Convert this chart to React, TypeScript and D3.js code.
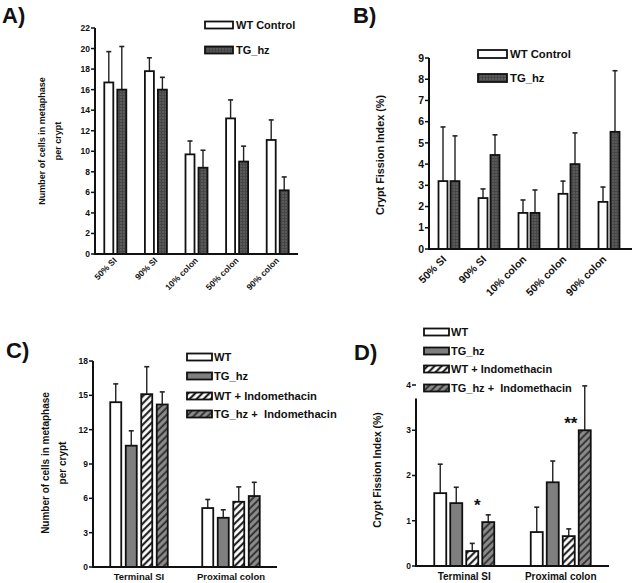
import React from "react";
import * as d3 from "d3";

// ---------- DATA ----------
const catsAB = ["50% SI", "90% SI", "10% colon", "50% colon", "90% colon"];
const seriesAB = ["WT Control", "TG_hz"];

const wtA = [16.7, 17.8, 9.7, 13.2, 11.1];
const wtAErr = [3.0, 1.3, 1.3, 1.8, 1.95];
const tgA = [16.0, 16.0, 8.4, 9.0, 6.2];
const tgAErr = [4.2, 1.2, 1.7, 1.5, 1.3];
const ticksA = [0, 2, 4, 6, 8, 10, 12, 14, 16, 18, 20, 22];

const wtB = [3.2, 2.4, 1.7, 2.6, 2.22];
const wtBErr = [2.55, 0.43, 0.61, 0.6, 0.7];
const tgB = [3.2, 4.43, 1.7, 4.0, 5.52];
const tgBErr = [2.13, 0.95, 1.08, 1.47, 2.88];
const ticksB = [0, 1, 2, 3, 4, 5, 6, 7, 8, 9];

const catsCD = ["Terminal SI", "Proximal colon"];
const seriesCD = ["WT", "TG_hz", "WT + Indomethacin", "TG_hz +  Indomethacin"];

const wtC = [14.4, 5.15];
const wtCErr = [1.6, 0.75];
const tgC = [10.6, 4.3];
const tgCErr = [1.3, 0.7];
const wtIndC = [15.1, 5.7];
const wtIndCErr = [2.4, 1.3];
const tgIndC = [14.2, 6.2];
const tgIndCErr = [1.1, 1.2];
const ticksC = [0, 3, 6, 9, 12, 15, 18];

const wtD = [1.61, 0.75];
const wtDErr = [0.64, 0.55];
const tgD = [1.39, 1.85];
const tgDErr = [0.35, 0.47];
const wtIndD = [0.33, 0.66];
const wtIndDErr = [0.17, 0.16];
const tgIndD = [0.97, 3.0];
const tgIndDErr = [0.16, 0.98];
const ticksD = [0, 1, 2, 3, 4];

const starsD = [
  { cat: "Terminal SI", series: 2, label: "*" },
  { cat: "Proximal colon", series: 3, label: "**" },
];

// ---------- STYLES ----------
const FONT = "'Liberation Sans', Arial, Helvetica, sans-serif";
const FILL_WT = "#ffffff";
const FILL_TG_DOT = "url(#dotDark)";
const FILL_TG_GRAY = "#7f7f7f";
const FILL_WT_HATCH = "url(#hatchWhite)";
const FILL_TG_HATCH = "url(#hatchGray)";

type Series = { name: string; values: number[]; errs: number[]; fill: string };

type PanelCfg = {
  title: string;
  titlePos: [number, number];
  cats: string[];
  series: Series[];
  xRange: [number, number];
  axisEnd: number;
  yDomain: [number, number];
  yRange: [number, number];
  axisTopValue: number;
  ticks: number[];
  tickFont: number;
  step: number;
  barW: number;
  capW: number;
  yLabel: string[];
  yLabelX: number;
  yLabelY: number;
  yLabelFont: number;
  yLabelDy: number;
  xLabelRotate: boolean;
  xLabelFont: number;
  xLabelY: number;
  xLabelDx: number;
  legendX: number;
  legendRows: number[];
  legendBoxW: number;
  legendBoxH: number;
  legendFont: number;
  legendTextGap: number;
};

function Panel({ cfg, stars }: { cfg: PanelCfg; stars?: typeof starsD }) {
  const x0 = d3.scaleBand<string>().domain(cfg.cats).range(cfg.xRange).padding(0);
  const y = d3.scaleLinear().domain(cfg.yDomain).range(cfg.yRange);
  const n = cfg.series.length;
  const inner = (n - 1) * cfg.step + cfg.barW;
  const x1 = d3
    .scaleBand<string>()
    .domain(cfg.series.map((s) => s.name))
    .range([-inner / 2, inner / 2])
    .paddingInner((cfg.step - cfg.barW) / cfg.step)
    .paddingOuter(0);
  const bw = x1.bandwidth();
  const axX = cfg.xRange[0];
  const y0 = y(0);
  const center = (c: string) => (x0(c) as number) + x0.bandwidth() / 2;

  return (
    <g fontFamily={FONT} fontWeight="bold" fill="#111">
      <text x={cfg.titlePos[0]} y={cfg.titlePos[1]} fontSize={22} fontWeight="bold">
        {cfg.title}
      </text>

      {/* bars */}
      {cfg.cats.map((c, ci) =>
        cfg.series.map((s) => {
          const bx = center(c) + (x1(s.name) as number);
          const v = s.values[ci];
          const top = y(v);
          const et = y(v + s.errs[ci]);
          const cx = bx + bw / 2;
          return (
            <g key={c + s.name}>
              <line x1={cx} x2={cx} y1={top} y2={et} stroke="#222" strokeWidth={1.4} />
              <line x1={cx - cfg.capW / 2} x2={cx + cfg.capW / 2} y1={et} y2={et} stroke="#222" strokeWidth={1.6} />
              <rect x={bx} y={top} width={bw} height={y0 - top} fill={s.fill} stroke="#111" strokeWidth={1.8} />
            </g>
          );
        })
      )}

      {/* y axis */}
      <line x1={axX} x2={axX} y1={y(cfg.axisTopValue)} y2={y0 + 1} stroke="#111" strokeWidth={2} />
      {cfg.ticks.map((t) => (
        <g key={t}>
          <line x1={axX - 4} x2={axX} y1={y(t)} y2={y(t)} stroke="#111" strokeWidth={1.5} />
          <text x={axX - 5} y={y(t)} dy="0.35em" textAnchor="end" fontSize={cfg.tickFont}>
            {t}
          </text>
        </g>
      ))}
      {/* x axis */}
      <line x1={axX - 1} x2={cfg.axisEnd} y1={y0} y2={y0} stroke="#111" strokeWidth={2} />

      {/* x labels */}
      {cfg.cats.map((c) =>
        cfg.xLabelRotate ? (
          <text
            key={c}
            transform={`translate(${center(c) + cfg.xLabelDx},${cfg.xLabelY}) rotate(-45)`}
            textAnchor="end"
            fontSize={cfg.xLabelFont}
          >
            {c}
          </text>
        ) : (
          <text key={c} x={center(c)} y={cfg.xLabelY} textAnchor="middle" fontSize={cfg.xLabelFont}>
            {c}
          </text>
        )
      )}

      {/* y label */}
      <text
        transform={`translate(${cfg.yLabelX},${cfg.yLabelY}) rotate(-90)`}
        textAnchor="middle"
        fontSize={cfg.yLabelFont}
      >
        {cfg.yLabel.map((l, i) => (
          <tspan key={i} x={0} dy={i === 0 ? 0 : cfg.yLabelDy}>
            {l}
          </tspan>
        ))}
      </text>

      {/* legend */}
      {cfg.series.map((s, i) => (
        <g key={"lg" + s.name}>
          <rect
            x={cfg.legendX}
            y={cfg.legendRows[i] - cfg.legendBoxH / 2}
            width={cfg.legendBoxW}
            height={cfg.legendBoxH}
            fill={s.fill}
            stroke="#111"
            strokeWidth={1.8}
          />
          <text
            x={cfg.legendX + cfg.legendBoxW + cfg.legendTextGap}
            y={cfg.legendRows[i]}
            dy="0.36em"
            fontSize={cfg.legendFont}
            style={{ whiteSpace: "pre" }}
          >
            {s.name}
          </text>
        </g>
      ))}

      {/* significance stars */}
      {stars &&
        stars.map((st, i) => {
          const s = cfg.series[st.series];
          const ci = cfg.cats.indexOf(st.cat);
          const cx = center(st.cat) + (x1(s.name) as number) + bw / 2;
          const single = st.label.length === 1;
          const sx = single ? cx + 5 : cx - 14;
          const sy = single ? y(s.values[ci] + s.errs[ci]) - 32 : y(s.values[ci]) - 1;
          return (
            <text key={"st" + i} x={sx} y={sy} textAnchor="middle" fontSize={17}>
              {st.label}
            </text>
          );
        })}
    </g>
  );
}

const seriesA: Series[] = [
  { name: seriesAB[0], values: wtA, errs: wtAErr, fill: FILL_WT },
  { name: seriesAB[1], values: tgA, errs: tgAErr, fill: FILL_TG_DOT },
];
const seriesB: Series[] = [
  { name: seriesAB[0], values: wtB, errs: wtBErr, fill: FILL_WT },
  { name: seriesAB[1], values: tgB, errs: tgBErr, fill: FILL_TG_DOT },
];
const seriesC: Series[] = [
  { name: seriesCD[0], values: wtC, errs: wtCErr, fill: FILL_WT },
  { name: seriesCD[1], values: tgC, errs: tgCErr, fill: FILL_TG_GRAY },
  { name: seriesCD[2], values: wtIndC, errs: wtIndCErr, fill: FILL_WT_HATCH },
  { name: seriesCD[3], values: tgIndC, errs: tgIndCErr, fill: FILL_TG_HATCH },
];
const seriesD: Series[] = [
  { name: seriesCD[0], values: wtD, errs: wtDErr, fill: FILL_WT },
  { name: seriesCD[1], values: tgD, errs: tgDErr, fill: FILL_TG_GRAY },
  { name: seriesCD[2], values: wtIndD, errs: wtIndDErr, fill: FILL_WT_HATCH },
  { name: seriesCD[3], values: tgIndD, errs: tgIndDErr, fill: FILL_TG_HATCH },
];

const cfgA: PanelCfg = {
  title: "A)", titlePos: [2, 23], cats: catsAB, series: seriesA,
  xRange: [95, 298], axisEnd: 298, yDomain: [0, 22], yRange: [254, 28], axisTopValue: 22,
  ticks: ticksA, tickFont: 8.5, step: 13, barW: 9, capW: 5,
  yLabel: ["Number of cells in metaphase", "per crypt"], yLabelX: 45, yLabelY: 141, yLabelFont: 9, yLabelDy: 16,
  xLabelRotate: true, xLabelFont: 8.5, xLabelY: 261, xLabelDx: 2,
  legendX: 205, legendRows: [25, 50], legendBoxW: 28, legendBoxH: 7, legendFont: 11, legendTextGap: 3,
};
const cfgB: PanelCfg = {
  title: "B)", titlePos: [353, 23], cats: catsAB, series: seriesB,
  xRange: [429, 629], axisEnd: 632, yDomain: [0, 9], yRange: [249, 58], axisTopValue: 9,
  ticks: ticksB, tickFont: 10.5, step: 12, barW: 9, capW: 5,
  yLabel: ["Crypt Fission Index (%)"], yLabelX: 384, yLabelY: 155, yLabelFont: 10.8, yLabelDy: 0,
  xLabelRotate: true, xLabelFont: 10.5, xLabelY: 260, xLabelDx: -2,
  legendX: 478, legendRows: [54, 78], legendBoxW: 29, legendBoxH: 8, legendFont: 11.3, legendTextGap: 3,
};
const cfgC: PanelCfg = {
  title: "C)", titlePos: [6, 358], cats: catsCD, series: seriesC,
  xRange: [93, 277], axisEnd: 277, yDomain: [0, 18], yRange: [567, 361], axisTopValue: 18,
  ticks: ticksC, tickFont: 8.5, step: 15.5, barW: 11, capW: 5,
  yLabel: ["Number of cells in metaphase", "per crypt"], yLabelX: 48.5, yLabelY: 463, yLabelFont: 10, yLabelDy: 17,
  xLabelRotate: false, xLabelFont: 9.5, xLabelY: 580, xLabelDx: 0,
  legendX: 187, legendRows: [357, 376, 396, 414], legendBoxW: 25, legendBoxH: 7, legendFont: 11.2, legendTextGap: 2,
};
const cfgD: PanelCfg = {
  title: "D)", titlePos: [354, 360], cats: catsCD, series: seriesD,
  xRange: [416, 609], axisEnd: 609, yDomain: [0, 4], yRange: [566, 385], axisTopValue: 3.7,
  ticks: ticksD, tickFont: 8.5, step: 16, barW: 12, capW: 5,
  yLabel: ["Crypt Fission Index (%)"], yLabelX: 380.5, yLabelY: 470, yLabelFont: 10.4, yLabelDy: 0,
  xLabelRotate: false, xLabelFont: 10, xLabelY: 580, xLabelDx: 0,
  legendX: 424, legendRows: [332, 351, 369, 388], legendBoxW: 25, legendBoxH: 7, legendFont: 11, legendTextGap: 2,
};

export default function App() {
  return (
    <svg
      width={634}
      height={583}
      style={{ position: "absolute", left: 0, top: 0, background: "#fff" }}
    >
      <defs>
        <pattern id="dotDark" patternUnits="userSpaceOnUse" width={3} height={3}>
          <rect width={3} height={3} fill="#474747" />
          <circle cx={1} cy={1} r={0.7} fill="#7a7a7a" />
        </pattern>
        <pattern id="hatchWhite" patternUnits="userSpaceOnUse" width={5} height={5} patternTransform="rotate(45)">
          <rect width={5} height={5} fill="#fff" />
          <line x1={1.2} x2={1.2} y1={0} y2={5} stroke="#111" strokeWidth={2} />
        </pattern>
        <pattern id="hatchGray" patternUnits="userSpaceOnUse" width={5} height={5} patternTransform="rotate(45)">
          <rect width={5} height={5} fill="#8c8c8c" />
          <line x1={1.2} x2={1.2} y1={0} y2={5} stroke="#2a2a2a" strokeWidth={1.8} />
        </pattern>
      </defs>
      <rect width={634} height={583} fill="#fff" />
      <Panel cfg={cfgA} />
      <Panel cfg={cfgB} />
      <Panel cfg={cfgC} />
      <Panel cfg={cfgD} stars={starsD} />
    </svg>
  );
}
